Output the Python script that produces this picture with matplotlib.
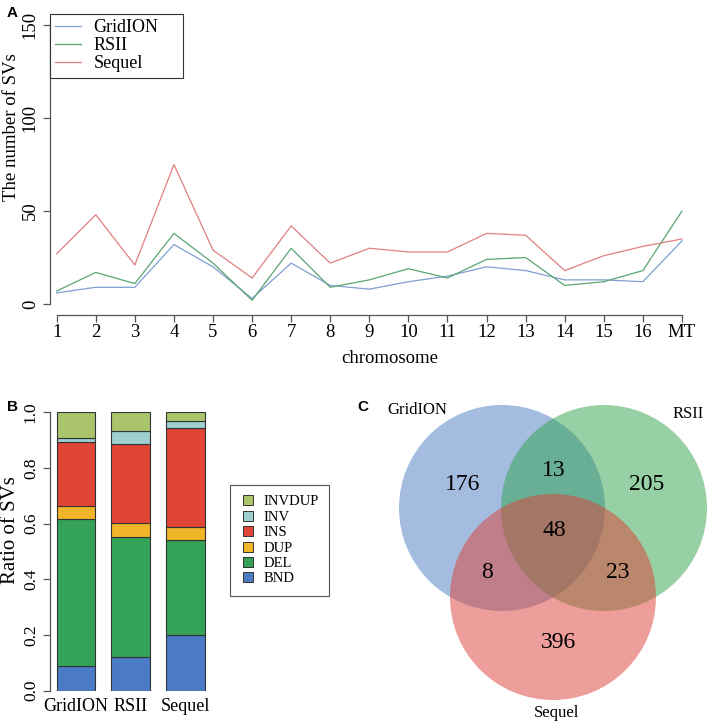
import matplotlib
matplotlib.use("Agg")
import matplotlib.pyplot as plt
from matplotlib.patches import Circle
from matplotlib.lines import Line2D

plt.rcParams['font.family'] = ['Liberation Serif', 'DejaVu Serif']

# ---- panel A data: SV counts per chromosome
chromosomes = ["1", "2", "3", "4", "5", "6", "7", "8", "9", "10",
               "11", "12", "13", "14", "15", "16", "MT"]
gridion_counts = [6, 9, 9, 32, 20, 3, 22, 10, 8, 12, 15, 20, 18, 13, 13, 12, 34]
rsii_counts = [7, 17, 11, 38, 22, 2, 30, 9, 13, 19, 14, 24, 25, 10, 12, 18, 50]
sequel_counts = [27, 48, 21, 75, 29, 14, 42, 22, 30, 28, 28, 38, 37, 18, 26, 31, 35]

# ---- panel B data: ratio of SV types
platforms = ["GridION", "RSII", "Sequel"]
sv_types = ["BND", "DEL", "DUP", "INS", "INV", "INVDUP"]
ratio_bnd = [0.089, 0.120, 0.199]
ratio_del = [0.527, 0.433, 0.341]
ratio_dup = [0.047, 0.050, 0.047]
ratio_ins = [0.229, 0.284, 0.356]
ratio_inv = [0.015, 0.047, 0.027]
ratio_invdup = [0.093, 0.066, 0.030]

# ---- panel C data: venn counts
venn_sets = ["GridION", "RSII", "Sequel"]
only_gridion, only_rsii, only_sequel = 176, 205, 396
gridion_rsii, gridion_sequel, rsii_sequel = 13, 8, 23
all_three = 48

W, H = 708, 725


def px_rect(x0, y0, x1, y1):
    return [x0 / W, 1 - y1 / H, (x1 - x0) / W, (y1 - y0) / H]


fig = plt.figure(figsize=(W / 100, H / 100), dpi=100)

# ================= A =================
ax = fig.add_axes(px_rect(50, 14, 689, 315))
x = list(range(1, len(chromosomes) + 1))
ax.plot(x, gridion_counts, color='#7f9fd2', lw=0.9, label='GridION')
ax.plot(x, rsii_counts, color='#5aa571', lw=0.9, label='RSII')
ax.plot(x, sequel_counts, color='#e07f7f', lw=0.9, label='Sequel')
ax.set_xlim(0.829, 17.18)
ax.set_ylim(-5.9, 156)
ax.set_xticks(x)
ax.set_xticklabels(chromosomes, fontsize=13.5)
ax.set_yticks([0, 50, 100, 150])
ax.set_yticklabels(['0', '50', '100', '150'], fontsize=13.5, rotation=90, va='center')
for s in ['top', 'right']:
    ax.spines[s].set_visible(False)
ax.spines['left'].set_bounds(0, 150)
ax.spines['bottom'].set_bounds(1, 17)
for s in ['left', 'bottom']:
    ax.spines[s].set_color('#555555')
    ax.spines[s].set_linewidth(0.9)
ax.tick_params(axis='both', length=5, width=0.9, color='#555555')
ax.tick_params(axis='x', pad=1.5)
ax.tick_params(axis='y', pad=3)
ax.set_xlabel('chromosome', fontsize=13.5)
ax.xaxis.set_label_coords((390 - 50) / 639, -(350 - 315) / 301)
ax.set_ylabel('The number of SVs', fontsize=13.5)
ax.yaxis.set_label_coords(-(50 - 20) / 639, (315 - 127) / 301)
leg = ax.legend(loc='upper left', bbox_to_anchor=(0, 1 - 67 / 301, 133 / 639, 67 / 301),
                mode='expand', borderaxespad=0,
                fontsize=13, fancybox=False, edgecolor='#333333', framealpha=1,
                handlelength=1.4, handletextpad=0.7, labelspacing=0.05,
                borderpad=0.3)
leg.get_frame().set_linewidth(0.8)
fig.text(7 / W, 1 - 13 / H, 'A', fontsize=11, fontweight='bold',
         family='Liberation Sans', ha='left', va='center')

# ================= B =================
axb = fig.add_axes(px_rect(50, 412.3, 215, 690.7))
pos = [0, 1, 2]
series = [ratio_bnd, ratio_del, ratio_dup, ratio_ins, ratio_inv, ratio_invdup]
colors = ['#4a7bc4', '#35a357', '#f1b52a', '#e04535', '#9fcfcf', '#aac46c']
bottom = [0, 0, 0]
handles = []
for vals, c, name in zip(series, colors, sv_types):
    axb.bar(pos, vals, width=0.715, bottom=bottom, color=c,
            edgecolor='#333333', linewidth=0.8)
    bottom = [b + v for b, v in zip(bottom, vals)]
    handles.append(Line2D([], [], marker='s', ls='none', markersize=6.5,
                          markerfacecolor=c, markeredgecolor='#333333',
                          markeredgewidth=0.7, label=name))
axb.set_xlim(-0.477, 2.55)
axb.set_ylim(0, 1)
axb.set_xticks(pos)
axb.set_xticklabels(platforms, fontsize=13)
axb.tick_params(axis='x', length=0, pad=5)
axb.set_yticks([0, 0.2, 0.4, 0.6, 0.8, 1.0])
axb.set_yticklabels(['0.0', '0.2', '0.4', '0.6', '0.8', '1.0'], fontsize=12.5,
                    rotation=90, va='center')
axb.tick_params(axis='y', length=5, width=0.9, color='#555555', pad=3)
for s in ['top', 'right', 'bottom']:
    axb.spines[s].set_visible(False)
axb.spines['left'].set_color('#555555')
axb.spines['left'].set_linewidth(0.9)
axb.set_ylabel('Ratio of SVs', fontsize=15)
axb.yaxis.set_label_coords(-(50 - 20) / 165, (690.7 - 530) / 278.4)
legb = fig.legend(handles=handles[::-1], loc='upper left',
                  bbox_to_anchor=(230 / W, 1 - 485 / H), borderaxespad=0,
                  fontsize=10.5, fancybox=False, edgecolor='#555555', framealpha=1,
                  handlelength=1.0, handletextpad=0.6, labelspacing=0.15,
                  borderpad=0.7)
legb.get_frame().set_linewidth(0.8)
fig.text(7 / W, 1 - 407 / H, 'B', fontsize=11, fontweight='bold',
         family='Liberation Sans', ha='left', va='center')

# ================= C =================
axc = fig.add_axes(px_rect(370, 400, 708, 725))
axc.set_xlim(370, 708)
axc.set_ylim(725, 400)
axc.axis('off')
r = 103
centers = {'GridION': (502, 508), 'RSII': (604, 508), 'Sequel': (553, 597)}
venn_colors = {'GridION': '#497bc1', 'RSII': '#31a34d', 'Sequel': '#dd3f37'}
for name in venn_sets:
    axc.add_patch(Circle(centers[name], r, facecolor=venn_colors[name],
                         alpha=0.5, edgecolor='none'))
count_pos = [
    (only_gridion, (463, 485)),
    (only_rsii, (647, 485)),
    (only_sequel, (559, 642)),
    (gridion_rsii, (554, 470)),
    (gridion_sequel, (487, 572)),
    (rsii_sequel, (618, 572)),
    (all_three, (554, 530)),
]
for val, (px, py) in count_pos:
    axc.text(px, py, str(val), fontsize=17, ha='center', va='center')
axc.text(417, 410, 'GridION', fontsize=12, ha='center', va='center')
axc.text(688, 414, 'RSII', fontsize=12, ha='center', va='center')
axc.text(557, 713, 'Sequel', fontsize=12, ha='center', va='center')
fig.text(357 / W, 1 - 407 / H, 'C', fontsize=11, fontweight='bold',
         family='Liberation Sans', ha='left', va='center')

fig.savefig('out.png', dpi=100)
